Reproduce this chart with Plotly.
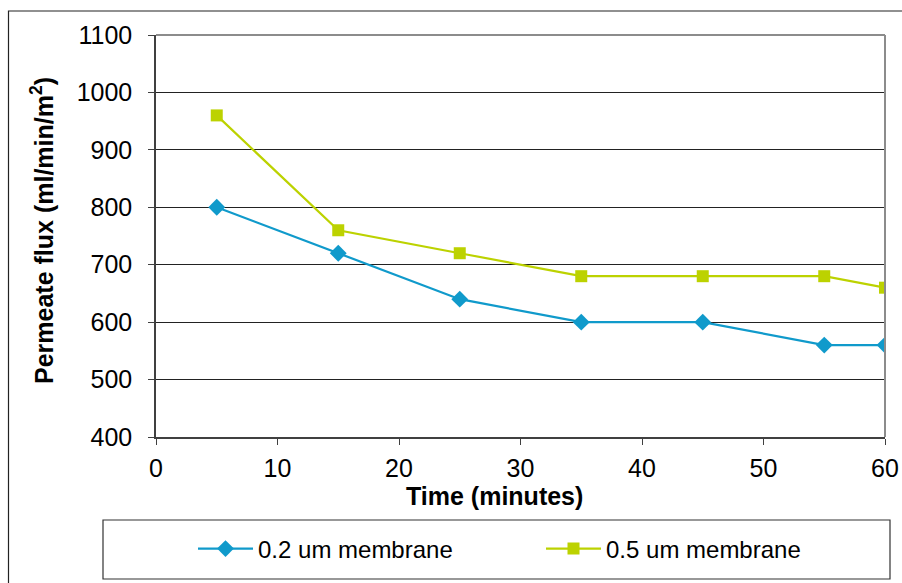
import plotly.graph_objects as go

# Permeate flux over time for two membrane pore sizes
time_min = [5, 15, 25, 35, 45, 55, 60]
flux_02um = [800, 720, 640, 600, 600, 560, 560]
flux_05um = [960, 760, 720, 680, 680, 680, 660]
series_names = ["0.2 um membrane", "0.5 um membrane"]

x_ticks = [0, 10, 20, 30, 40, 50, 60]
y_ticks = [400, 500, 600, 700, 800, 900, 1000, 1100]

BLUE = "#109ACB"
GREEN = "#BCD200"
FONT = "Liberation Sans, Arial, sans-serif"

W, H = 902, 583
L, R, T, B = 156, 17, 35, 146
pw, ph = W - L - R, H - T - B


def px_x(p):
    return (p - L) / pw


def px_y(p):
    return (H - B - p) / ph


fig = go.Figure()
fig.add_trace(go.Scatter(
    x=time_min, y=flux_02um, name=series_names[0], mode="lines+markers",
    line=dict(color=BLUE, width=2.2),
    marker=dict(symbol="diamond", size=13, color=BLUE),
))
fig.add_trace(go.Scatter(
    x=time_min, y=flux_05um, name=series_names[1], mode="lines+markers",
    line=dict(color=GREEN, width=2.2),
    marker=dict(symbol="square", size=12, color=GREEN),
))

fig.update_layout(
    width=W, height=H,
    margin=dict(l=L, r=R, t=T, b=B, autoexpand=False),
    paper_bgcolor="white", plot_bgcolor="white",
    font=dict(family=FONT, size=24, color="black"),
    showlegend=True,
    legend=dict(
        orientation="h", x=px_x(193), xanchor="left",
        y=px_y(549), yanchor="middle",
        font=dict(size=24), entrywidth=278, entrywidthmode="pixels",
        bgcolor="rgba(0,0,0,0)", borderwidth=0, itemwidth=55,
    ),
    xaxis=dict(
        range=[0, 60], tickvals=x_ticks, showgrid=False, zeroline=False,
        showline=True, linecolor="#404040", linewidth=1.5,
        ticks="outside", ticklen=6, tickcolor="#404040",
        tickfont=dict(size=25), ticklabelstandoff=2,
    ),
    yaxis=dict(
        range=[400, 1100], tickvals=y_ticks, showgrid=True,
        gridcolor="#222222", gridwidth=1, zeroline=False,
        showline=True, linecolor="#404040", linewidth=1.5,
        ticks="outside", ticklen=6, tickcolor="#404040",
        tickfont=dict(size=25), ticklabelstandoff=11,
    ),
    shapes=[
        # plot area border (top and right)
        dict(type="line", xref="paper", yref="paper", x0=0, x1=1, y0=1, y1=1,
             line=dict(color="#8c8c8c", width=2)),
        dict(type="line", xref="paper", yref="paper", x0=1, x1=1, y0=0, y1=1,
             line=dict(color="#8c8c8c", width=2)),
        # legend box
        dict(type="rect", xref="paper", yref="paper",
             x0=px_x(103), x1=px_x(890), y0=px_y(579), y1=px_y(520),
             line=dict(color="#333333", width=1.2)),
        # outer chart frame
        dict(type="rect", xref="paper", yref="paper",
             x0=px_x(8.5), x1=px_x(910), y0=px_y(600), y1=px_y(11),
             line=dict(color="#222222", width=1.2)),
    ],
    annotations=[
        dict(text="<b>Time (minutes)</b>", xref="paper", yref="paper",
             x=px_x(494), y=px_y(496), xanchor="center", yanchor="middle",
             showarrow=False, font=dict(size=25)),
        dict(text="<b>Permeate flux (ml/min/m<sup>2</sup>)</b>", xref="paper", yref="paper",
             x=px_x(42), y=px_y(230), xanchor="center", yanchor="middle",
             textangle=-90, showarrow=False, font=dict(size=25)),
    ],
)

fig.write_html("out.html")
